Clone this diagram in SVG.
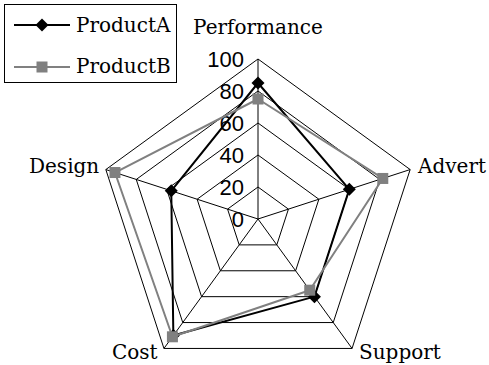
<svg xmlns="http://www.w3.org/2000/svg" xmlns:xlink="http://www.w3.org/1999/xlink" width="489" height="365" viewBox="0 0 489 365">
  <style>
    .grid { fill: none; stroke: #000; stroke-width: 1; }
    .tick { font-family: "Liberation Sans", Arial, sans-serif; font-size: 22px; fill: #000; text-anchor: end; }
    .cat { font-family: "DejaVu Serif", "Liberation Serif", serif; font-size: 20px; fill: #000; }
    .lineA { fill: none; stroke: #000; stroke-width: 2; stroke-linejoin: round; }
    .lineB { fill: none; stroke: #808080; stroke-width: 2; stroke-linejoin: round; }
  </style>
  <defs>
    <path id="diamond" d="M0,-6.5 L6.5,0 L0,6.5 L-6.5,0 Z" fill="#000"/>
    <rect id="square" x="-5.5" y="-5.5" width="11" height="11" fill="#808080"/>
  </defs>

  <rect width="489" height="365" fill="#fff"/>

  <!-- radar grid: rings at 20, 40, 60, 80, 100 and the five spokes -->
  <g id="grid" class="grid">
    <polygon points="258,59 410.17,169.56 352.05,348.44 163.95,348.44 105.83,169.56"/>
    <polygon points="258,91 379.74,179.45 333.24,322.55 182.76,322.55 136.26,179.45"/>
    <polygon points="258,123 349.30,189.34 314.43,296.66 201.57,296.66 166.70,189.34"/>
    <polygon points="258,155 318.87,199.22 295.62,270.78 220.38,270.78 197.13,199.22"/>
    <polygon points="258,187 288.43,209.11 276.81,244.89 239.19,244.89 227.57,209.11"/>
    <path d="M258,219 L258,59 M258,219 L410.17,169.56 M258,219 L352.05,348.44 M258,219 L163.95,348.44 M258,219 L105.83,169.56"/>
  </g>

  <!-- value axis labels -->
  <g id="value-labels">
    <text class="tick" x="244" y="227">0</text>
    <text class="tick" x="244" y="195">20</text>
    <text class="tick" x="244" y="163">40</text>
    <text class="tick" x="244" y="131">60</text>
    <text class="tick" x="244" y="99">80</text>
    <text class="tick" x="244" y="67">100</text>
  </g>

  <!-- category labels -->
  <g id="performance"><text class="cat" x="258" y="34" text-anchor="middle">Performance</text></g>
  <g id="advert"><text class="cat" x="418" y="173">Advert</text></g>
  <g id="support"><text class="cat" x="359" y="359">Support</text></g>
  <g id="cost"><text class="cat" x="112" y="359">Cost</text></g>
  <g id="design"><text class="cat" x="29" y="173">Design</text></g>

  <!-- data series -->
  <g id="connectors">
    <g id="series-a">
      <polygon class="lineA" points="258,83 349.30,189.34 314.43,296.66 173.36,335.50 171.26,190.82"/>
      <use xlink:href="#diamond" x="258" y="83"/>
      <use xlink:href="#diamond" x="349.30" y="189.34"/>
      <use xlink:href="#diamond" x="314.43" y="296.66"/>
      <use xlink:href="#diamond" x="173.36" y="335.50"/>
      <use xlink:href="#diamond" x="171.26" y="190.82"/>
    </g>
    <g id="series-b">
      <polygon class="lineB" points="258,99 382.78,178.46 309.73,290.19 172.42,336.79 114.96,172.53"/>
      <use xlink:href="#square" x="258" y="99"/>
      <use xlink:href="#square" x="382.78" y="178.46"/>
      <use xlink:href="#square" x="309.73" y="290.19"/>
      <use xlink:href="#square" x="172.42" y="336.79"/>
      <use xlink:href="#square" x="114.96" y="172.53"/>
    </g>
  </g>

  <!-- legend -->
  <g id="legend">
    <rect x="4.5" y="4.5" width="172" height="78" fill="#fff" stroke="#000" stroke-width="1"/>
    <line class="lineA" x1="14" y1="25" x2="70" y2="25"/>
    <use xlink:href="#diamond" x="42" y="25"/>
    <text class="cat" x="76" y="32">ProductA</text>
    <line class="lineB" x1="14" y1="67" x2="70" y2="67"/>
    <use xlink:href="#square" x="42" y="67"/>
    <text class="cat" x="76" y="73">ProductB</text>
  </g>
</svg>
